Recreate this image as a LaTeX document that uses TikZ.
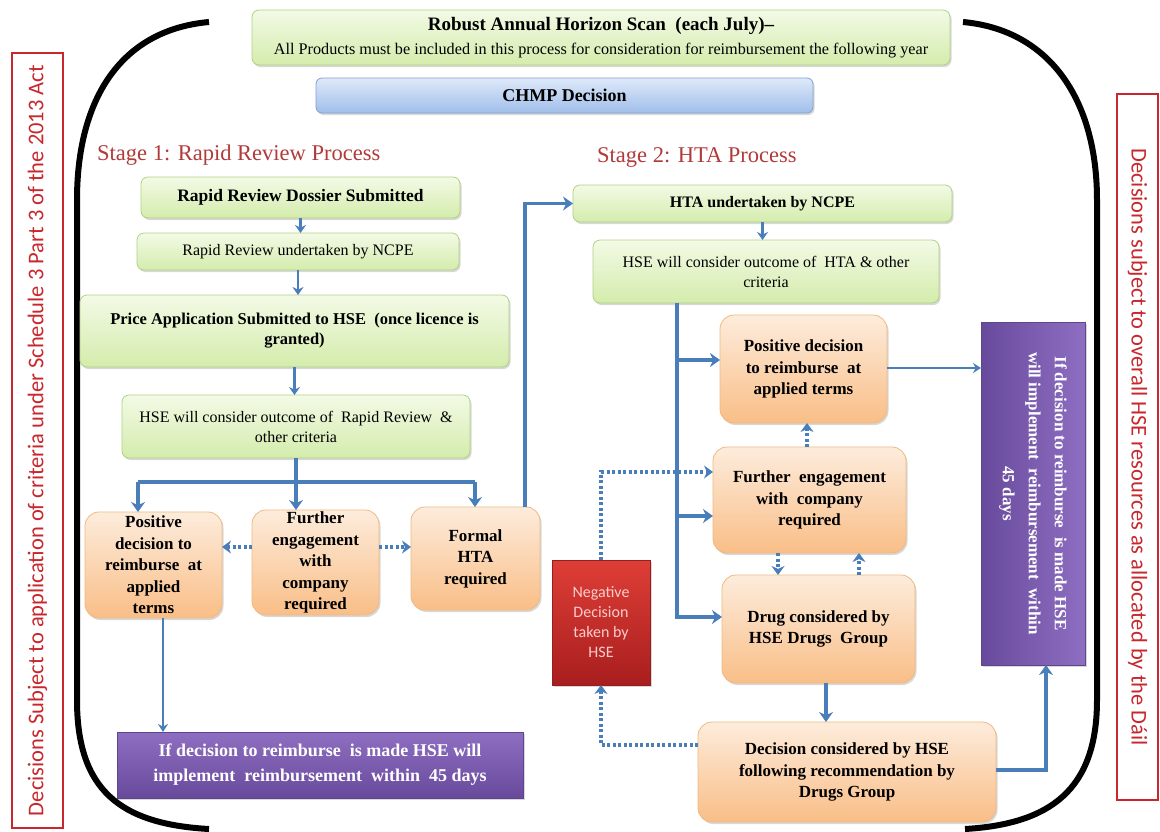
\documentclass[tikz,border=0pt]{standalone}
\usepackage{fontspec}
\setmainfont{Liberation Serif}
\newfontfamily\calib{Carlito}
\usetikzlibrary{arrows.meta,shadows}
\definecolor{ablue}{RGB}{74,126,187}
\definecolor{gtop}{RGB}{243,250,230}
\definecolor{gbot}{RGB}{212,236,172}
\definecolor{gbrd}{RGB}{176,210,130}
\definecolor{otop}{RGB}{253,236,220}
\definecolor{obot}{RGB}{249,190,135}
\definecolor{obrd}{RGB}{240,185,130}
\definecolor{btop}{RGB}{222,233,249}
\definecolor{bbot}{RGB}{160,190,234}
\definecolor{bbrd}{RGB}{130,160,210}
\definecolor{ptop}{RGB}{142,110,192}
\definecolor{pbot}{RGB}{104,74,156}
\definecolor{pbrd}{RGB}{95,70,140}
\definecolor{rtop}{RGB}{222,62,54}
\definecolor{rbot}{RGB}{168,30,30}
\definecolor{rbrd}{RGB}{150,30,30}
\definecolor{sidered}{RGB}{200,40,45}
\definecolor{stagered}{RGB}{178,58,58}
\definecolor{negtext}{RGB}{250,205,205}
\begin{document}
\begin{tikzpicture}[x=1pt,y=-1pt,
  sz/.style 2 args={minimum width=#1,minimum height=#2},
  shadowed/.style={drop shadow={shadow xshift=1.5pt,shadow yshift=-2pt,opacity=0.3}},
  bx/.style={inner sep=0pt,outer sep=0pt,align=center,line width=0.8pt,shadowed},
  gbox/.style={bx,rounded corners=7pt,top color=gtop,bottom color=gbot,draw=gbrd},
  obox/.style={bx,rounded corners=14pt,top color=otop,bottom color=obot,draw=obrd,
    font={\fontsize{17}{21.5}\selectfont\bfseries}},
  cbox/.style={bx,rounded corners=6pt,top color=btop,bottom color=bbot,draw=bbrd,
    font={\fontsize{18}{22}\selectfont\bfseries}},
  pbox/.style={bx,top color=ptop,bottom color=pbot,draw=pbrd,text=white},
  rbox/.style={bx,top color=rtop,bottom color=rbot,draw=rbrd},
  stage/.style={inner sep=0pt,text=stagered,font={\fontsize{22.5}{27}\selectfont}},
  sidebox/.style={draw=sidered,line width=2pt,inner sep=0pt},
  sidetext/.style={inner sep=0pt,text=sidered,font={\calib\fontsize{22.5}{27}\selectfont}},
  conn/.style={draw=ablue,line width=3.5pt,-{Stealth[length=10pt,width=14pt]}},
  mid/.style={draw=ablue,line width=2.5pt,-{Stealth[length=8pt,width=11pt]}},
  thinarrow/.style={draw=ablue,line width=2pt,-{Stealth[length=8pt,width=10pt]}},
  trunk/.style={draw=ablue,line width=3.5pt},
  dots/.style={draw=ablue,line width=3.5pt,dash pattern=on 3pt off 2.5pt,-{Stealth[length=9pt,width=13pt]}},
  bracket/.style={draw=black,line width=6pt}
]
\fill[white] (0,0) rectangle (1160,831);
\useasboundingbox (0,0) rectangle (1160,831);

% brackets
\draw[bracket] (209,22) .. controls (120,30) and (77,100) .. (77,200) -- (77,700) .. controls (77,790) and (120,824) .. (209,829);
\draw[bracket] (963,22) .. controls (1050,30) and (1097,100) .. (1097,200) -- (1097,700) .. controls (1097,790) and (1050,824) .. (965,829);

% side boxes
\node[sidebox,sz={51}{775}] (sideL) at (37.5,440.5) {};
\node[sidetext,rotate=90] (sideLtxt) at (sideL.center) {Decisions Subject to application of criteria under Schedule 3 Part 3 of the 2013 Act};
\node[sidebox,sz={41}{706}] (sideR) at (1137.5,447) {};
\node[sidetext,rotate=-90] (sideRtxt) at (sideR.center) {Decisions subject to overall HSE resources as allocated by the Dáil};

% top
\node[gbox,sz={698}{55}] (scan) at (601,37.5) {\fontsize{19}{22}\selectfont\bfseries Robust Annual Horizon Scan\ \ (each July)–\\[7pt]\fontsize{16.2}{22}\selectfont\mdseries All Products must be included in this process for consideration for reimbursement the following year};
\node[cbox,sz={497}{35}] (chmp) at (564.5,95.5) {CHMP Decision};

\node[stage,anchor=west] (st1) at (97,155) {Stage 1: Rapid Review Process};
\node[stage,anchor=west] (st2) at (597,157) {Stage 2: HTA Process};

% stage 1
\node[gbox,sz={319}{41},font={\fontsize{17.5}{21}\selectfont\bfseries}] (dossier) at (300.5,197.5) {Rapid Review Dossier Submitted};
\node[gbox,sz={322}{37},font={\fontsize{16}{20}\selectfont}] (ncpe) at (298,251.5) {Rapid Review undertaken by NCPE};
\node[gbox,sz={429}{72},font={\fontsize{16.5}{20}\selectfont\bfseries}] (price) at (294.5,331) {Price Application Submitted to HSE\ \ (once licence is\\granted)};
\node[gbox,sz={348}{63},font={\fontsize{16}{20}\selectfont}] (hserr) at (296,426.5) {HSE will consider outcome of\ \ Rapid Review\ \ \&\\other criteria};
\node[obox,sz={137}{106}] (pos1) at (153.5,565) {Positive\\decision to\\reimburse\ \ at\\applied\\terms};
\node[obox,sz={127}{105}] (fur1) at (315.5,562.5) {Further\\engagement\\with\\company\\required};
\node[obox,sz={129}{103}] (formal) at (475.5,558.5) {Formal\\HTA\\required};
\node[pbox,sz={406}{66},font={\fontsize{18}{25}\selectfont\bfseries}] (impl1) at (320,765) {If decision to reimburse\ \ is made HSE will\\implement\ \ reimbursement\ \ within\ \ 45 days};

% stage 2
\node[gbox,sz={379}{37},font={\fontsize{16}{20}\selectfont\bfseries}] (hta) at (762.5,203.5) {HTA undertaken by NCPE};
\node[gbox,sz={346}{63},font={\fontsize{16}{20}\selectfont}] (hsehta) at (766,271.5) {HSE will consider outcome of\ \ HTA \& other\\criteria};
\node[obox,sz={167}{108}] (pos2) at (803.5,369) {Positive decision\\to reimburse\ \ at\\applied terms};
\node[obox,sz={193}{106}] (fur2) at (809.5,500) {Further\ \ engagement\\with\ \ company\\required};
\node[obox,sz={193}{108}] (drug) at (818.5,629) {Drug considered by\\HSE Drugs\ \ Group};
\node[obox,sz={298}{100}] (dec) at (847,772) {Decision considered by HSE\\following recommendation by\\Drugs Group};
\node[rbox,sz={98}{125},text=negtext,font={\calib\fontsize{16}{20}\selectfont}] (neg) at (601,622.5) {Negative\\Decision\\taken by\\HSE};
\node[pbox,left color=pbot,right color=ptop,sz={104}{343}] (impl2) at (1033,493.5) {};
\node[rotate=-90,align=center,inner sep=0pt,text=white,font={\fontsize{17}{26}\selectfont\bfseries}] (impl2txt) at (impl2.center) {If decision to reimburse\ \ is made HSE\\will implement\ \ reimbursement\ \ within\\45 days};

% helper coordinates
\coordinate (yA) at (0,547);
\coordinate (bL) at (138,482);
\coordinate (bR) at (475,482);
\coordinate (xF) at (525,0);
\coordinate (x163) at (163,0);
\coordinate (xT) at (677,0);
\coordinate (yT) at (0,617);
\coordinate (y360) at (0,360);
\coordinate (y516) at (0,516);
\coordinate (y472) at (0,472);
\coordinate (x807) at (807,0);
\coordinate (x778) at (778,0);
\coordinate (x859) at (859,0);
\coordinate (x826) at (826,0);
\coordinate (y745) at (0,745);
\coordinate (y770) at (0,770);
\coordinate (x1046) at (1046,0);
\coordinate (y368) at (0,368);

% stage 1 connectors
\draw[mid] (dossier.south) -- (dossier.south |- ncpe.north);
\draw[mid] (ncpe.south) -- (ncpe.south |- price.north);
\draw[mid] (price.south) -- (price.south |- hserr.north);
\draw[conn] (hserr.south) -- (hserr.south |- fur1.north);
\draw[trunk] (bL) -- (bR);
\draw[conn] (bL) -- (bL |- pos1.north);
\draw[conn] (bR) -- (bR |- formal.north);
\draw[dots] (fur1.west |- yA) -- (pos1.east |- yA);
\draw[dots] (fur1.east |- yA) -- (formal.west |- yA);
\draw[conn] (formal.north -| xF) |- (hta.west);
\draw[thinarrow] (pos1.south -| x163) -- (impl1.north -| x163);

% stage 2 connectors
\draw[mid] (hta.south) -- (hta.south |- hsehta.north);
\draw[conn] (hsehta.south -| xT) |- (drug.west |- yT);
\draw[conn] (xT |- y360) -- (pos2.west |- y360);
\draw[conn] (xT |- y516) -- (fur2.west |- y516);
\draw[dots] (neg.north) |- (fur2.west |- y472);
\draw[dots] (fur2.north -| x807) -- (pos2.south -| x807);
\draw[dots] (fur2.south -| x778) -- (drug.north -| x778);
\draw[dots] (drug.north -| x859) -- (fur2.south -| x859);
\draw[conn] (drug.south -| x826) -- (dec.north -| x826);
\draw[dots] (dec.west |- y745) -| (neg.south);
\draw[conn] (dec.east |- y770) -| (impl2.south -| x1046);
\draw[thinarrow] (pos2.east |- y368) -- (impl2.west |- y368);
\end{tikzpicture}
\end{document}
